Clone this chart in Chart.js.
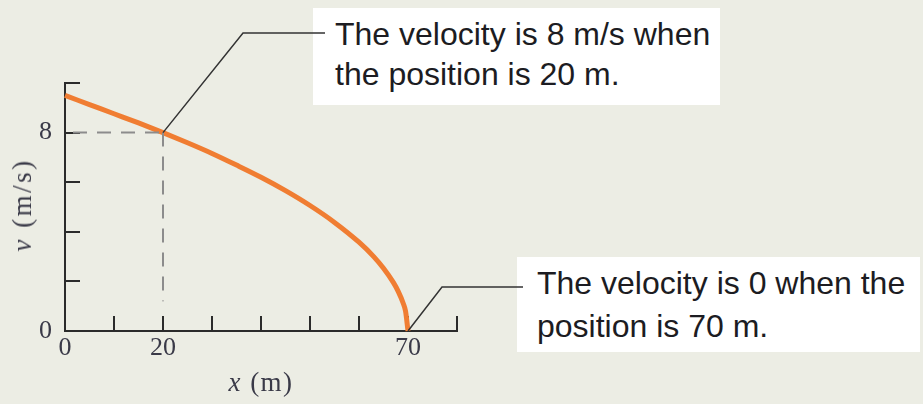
<!DOCTYPE html>
<html>
<head>
<meta charset="utf-8">
<script src="https://cdn.jsdelivr.net/npm/chart.js@4.4.1/dist/chart.umd.min.js"></script>
<style>
	html, body { margin: 0; padding: 0; background: #ecede4; }
	#wrap { position: relative; width: 923px; height: 404px; overflow: hidden; }
	#chart { position: absolute; left: 0; top: 0; z-index: 2; }
	.callout {
		position: absolute; z-index: 1; background: #fff; box-sizing: border-box;
		font-family: "Liberation Sans", Arial, sans-serif; font-size: 32px; color: #1c1c22;
		white-space: nowrap;
	}
	.axt {
		position: absolute; z-index: 3; font-family: "Liberation Serif", serif;
		font-size: 27px; color: #3a3a48; line-height: 28px; white-space: nowrap;
		letter-spacing: 1.5px;
	}
</style>
</head>
<body>
<div id="wrap">
	<div class="callout" id="note1" style="left:313px; top:8px; width:407px; height:97px; padding:6px 0 0 22px; line-height:40px;">The velocity is 8 m/s when<br>the position is 20 m.</div>
	<div class="callout" id="note2" style="left:517px; top:257px; width:403px; height:95px; padding:5px 0 0 20px; line-height:43px;">The velocity is 0 when the<br>position is 70 m.</div>
	<canvas id="chart" width="923" height="404"></canvas>
	<div class="axt" style="left:261px; top:382px; transform:translate(-50%,-50%);"><i>x</i> (m)</div>
	<div class="axt" style="left:22px; top:205px; transform:translate(-50%,-50%) rotate(-90deg); letter-spacing:2.5px;"><i>v</i> (m/s)</div>
</div>
<script>
// position x (m) and velocity v (m/s) along the curve
const positions  = [0, 5, 10, 15, 20, 25, 30, 35, 40, 45, 50, 55, 60, 63, 65, 67, 68, 69, 69.5, 70];
const velocities = [9.5, 9.13, 8.76, 8.39, 8.0, 7.59, 7.16, 6.69, 6.2, 5.66, 5.06, 4.38, 3.58, 3.0, 2.53, 1.96, 1.6, 1.13, 0.8, 0];

// marked point and the dashed guides to the axes
const markX = [0, 20, 20];
const markV = [8, 8, 1.2];

// only these ticks carry a number
const xTickLabels = [0, 20, 70];
const yTickLabels = [0, 8];

// callout leaders: [x, v] of the point, then the elbow and end in pixels
const leaders = [
	{at: [20, 8], elbow: [243, 33], end: [325, 33]},
	{at: [70, 0], elbow: [442, 287], end: [523, 287]}
];

const INK = '#2b2b2b';
const LABEL = '#3a3a48';
const serif = {family: '"Liberation Serif", serif', size: 26};

const curve = positions.map((x, i) => ({x: x, y: velocities[i]}));
const hGuide = [{x: markX[0], y: markV[0]}, {x: markX[1], y: markV[1]}];
const vGuide = [{x: markX[1], y: markV[1]}, {x: markX[2], y: markV[2]}];

//tick marks on the inside of both axes, skipping the origin
const innerTicks = {
	id: 'innerTicks',
	beforeDatasetsDraw(chart) {
		const {ctx, chartArea, scales: {x, y}} = chart;
		ctx.save();
		ctx.strokeStyle = INK;
		ctx.lineWidth = 2;
		ctx.beginPath();
		x.ticks.filter(t => t.value > 0).map(t => {
			let px = Math.round(x.getPixelForValue(t.value));
			ctx.moveTo(px, chartArea.bottom);
			ctx.lineTo(px, chartArea.bottom - 15);
		});
		y.ticks.filter(t => t.value > 0).map(t => {
			let py = Math.round(y.getPixelForValue(t.value));
			ctx.moveTo(chartArea.left, py);
			ctx.lineTo(chartArea.left + 15, py);
		});
		ctx.stroke();
		ctx.restore();
	}
};

const leaderLines = {
	id: 'leaderLines',
	afterDatasetsDraw(chart) {
		const {ctx, scales: {x, y}} = chart;
		ctx.save();
		ctx.strokeStyle = '#333';
		ctx.lineWidth = 1.5;
		leaders.map(l => {
			ctx.beginPath();
			ctx.moveTo(x.getPixelForValue(l.at[0]), y.getPixelForValue(l.at[1]));
			ctx.lineTo(l.elbow[0], l.elbow[1]);
			ctx.lineTo(l.end[0], l.end[1]);
			ctx.stroke();
		});
		ctx.restore();
	}
};

new Chart(document.getElementById('chart'), {
	type: 'scatter',
	plugins: [innerTicks, leaderLines],
	data: {
		datasets: [
			{
				data: hGuide, showLine: true, pointRadius: 0,
				borderColor: '#8c8c8c', borderWidth: 2,
				borderDash: [14, 10], borderDashOffset: 16
			},
			{
				data: vGuide, showLine: true, pointRadius: 0,
				borderColor: '#8c8c8c', borderWidth: 2,
				borderDash: [14, 10]
			},
			{
				data: curve, showLine: true, pointRadius: 0,
				borderColor: '#f07d32', borderWidth: 5,
				cubicInterpolationMode: 'monotone', clip: false
			}
		]
	},
	options: {
		responsive: false,
		animation: false,
		devicePixelRatio: 1,
		layout: {padding: {left: 0, top: 83, right: 466, bottom: 0}},
		plugins: {legend: {display: false}, tooltip: {enabled: false}},
		scales: {
			x: {
				type: 'linear', min: 0, max: 80,
				grid: {display: false},
				border: {display: true, color: INK, width: 2},
				ticks: {
					stepSize: 10, autoSkip: false, maxRotation: 0, padding: -6,
					color: LABEL, font: serif,
					callback: v => xTickLabels.includes(v) ? String(v) : ''
				},
				afterFit: scale => { scale.height = 73; }
			},
			y: {
				type: 'linear', min: 0, max: 10,
				grid: {display: false},
				border: {display: true, color: INK, width: 2},
				ticks: {
					stepSize: 2, autoSkip: false, padding: 5,
					color: LABEL, font: serif,
					callback: v => yTickLabels.includes(v) ? String(v) : ''
				},
				afterFit: scale => { scale.width = 65; }
			}
		}
	}
});
</script>
</body>
</html>
